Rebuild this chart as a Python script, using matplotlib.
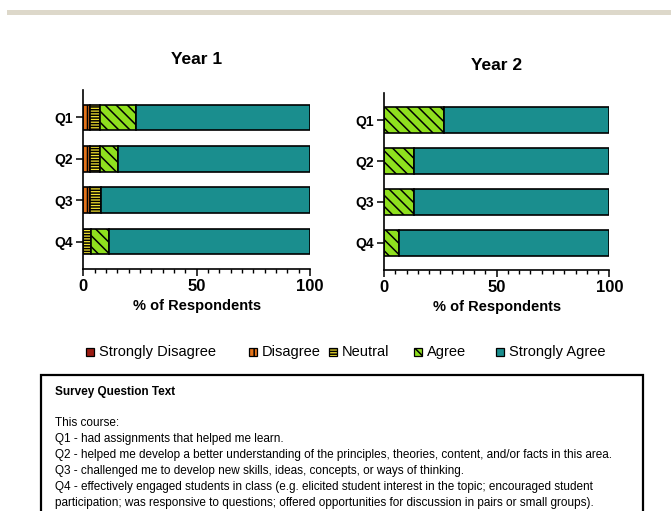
import matplotlib
matplotlib.use('Agg')
import matplotlib.pyplot as plt
from matplotlib.patches import Rectangle
from matplotlib.ticker import MultipleLocator
import numpy as np

plt.rcParams['font.family'] = ['Liberation Sans', 'DejaVu Sans']
plt.rcParams['hatch.linewidth'] = 1.1

questions = ['Q1', 'Q2', 'Q3', 'Q4']
levels = ['Strongly Disagree', 'Disagree', 'Neutral', 'Agree', 'Strongly Agree']

# % of respondents
year1 = {
    'Strongly Disagree': [0, 0, 0, 0],
    'Disagree': [2.9, 2.9, 2.9, 0],
    'Neutral': [4.5, 4.5, 4.7, 3.2],
    'Agree': [15.7, 7.7, 0, 8.1],
    'Strongly Agree': [76.9, 84.9, 92.4, 88.7],
}
year2 = {
    'Strongly Disagree': [0, 0, 0, 0],
    'Disagree': [0, 0, 0, 0],
    'Neutral': [0, 0, 0, 0],
    'Agree': [26.7, 13.3, 13.3, 6.7],
    'Strongly Agree': [73.3, 86.7, 86.7, 93.3],
}

colors = {'Strongly Disagree': '#9a1b12', 'Disagree': '#e3731a', 'Neutral': '#f2e22e',
          'Agree': '#8fe01e', 'Strongly Agree': '#1a8e8e'}
hatches = {'Strongly Disagree': None, 'Disagree': '||', 'Neutral': '------',
           'Agree': '\\\\\\', 'Strongly Agree': None}

question_text = [
    'This course:',
    'Q1 - had assignments that helped me learn.',
    'Q2 - helped me develop a better understanding of the principles, theories, content, and/or facts in this area.',
    'Q3 - challenged me to develop new skills, ideas, concepts, or ways of thinking.',
    'Q4 - effectively engaged students in class (e.g. elicited student interest in the topic; encouraged student',
    'participation; was responsive to questions; offered opportunities for discussion in pairs or small groups).',
]

W, H = 671, 511
fig = plt.figure(figsize=(W / 100, H / 100), dpi=100)


def px_axes(x0, x1, ytop, ybot):
    return fig.add_axes([x0 / W, 1 - ybot / H, (x1 - x0) / W, (ybot - ytop) / H])


def draw_panel(ax, data, title, title_y):
    y = np.arange(len(questions))
    left = np.zeros(len(questions))
    for lev in levels:
        vals = np.array(data[lev], dtype=float)
        keep = vals > 0
        if keep.any():
            ax.barh(y[keep], vals[keep], left=left[keep], height=0.62,
                    color=colors[lev], edgecolor='black', linewidth=1.2,
                    hatch=hatches[lev])
        left += vals
    ax.set_xlim(0, 100)
    ax.set_ylim(3.66, -0.66)
    ax.set_yticks(y)
    ax.set_yticklabels(questions, fontsize=10, fontweight='bold')
    ax.set_xticks([0, 50, 100])
    ax.set_xticklabels(['0', '50', '100'], fontsize=12, fontweight='bold')
    ax.xaxis.set_minor_locator(MultipleLocator(5))
    ax.tick_params(axis='both', which='major', length=5, width=1.1, direction='out', pad=2.5)
    ax.tick_params(axis='x', which='minor', length=3, width=1.0)
    for s in ['top', 'right']:
        ax.spines[s].set_visible(False)
    for s in ['left', 'bottom']:
        ax.spines[s].set_linewidth(1.2)
    ax.set_xlabel('% of Respondents', fontsize=10.5, fontweight='bold', labelpad=3)
    fig.text((ax.get_position().x0 + ax.get_position().x1) / 2, 1 - title_y / H, title,
             ha='center', va='center', fontsize=12.5, fontweight='bold')


ax1 = px_axes(83.3, 310, 90, 269)
draw_panel(ax1, year1, 'Year 1', 60)
ax2 = px_axes(384, 609.3, 93, 270)
draw_panel(ax2, year2, 'Year 2', 66)

# top grey rule
fig.add_artist(Rectangle((7 / W, 1 - 15 / H), (W - 7) / W, 5 / H, transform=fig.transFigure,
                         facecolor='#ddd8ca', edgecolor='none'))

# legend row
leg_sq_x = [90, 253, 333, 418, 500]
leg_y = 352
for lev, sx in zip(levels, leg_sq_x):
    fig.add_artist(Rectangle(((sx - 4) / W, 1 - (leg_y + 4) / H), 8 / W, 8 / H,
                             transform=fig.transFigure, facecolor=colors[lev],
                             edgecolor='black', linewidth=0.9, hatch=hatches[lev]))
    fig.text((sx + 9) / W, 1 - leg_y / H, lev, ha='left', va='center', fontsize=10.5)

# question text box
fig.add_artist(Rectangle((41 / W, -0.05), (643 - 41) / W, 1 - 375 / H + 0.05,
                         transform=fig.transFigure, facecolor='none',
                         edgecolor='black', linewidth=1.6))
fig.text(55 / W, 1 - 392 / H, 'Survey Question Text', ha='left', va='center',
         fontsize=8.5, fontweight='bold')
for i, line in enumerate(question_text):
    fig.text(55 / W, 1 - (423 + 16 * i) / H, line, ha='left', va='center', fontsize=8.5)

fig.savefig('out.png', dpi=100)
